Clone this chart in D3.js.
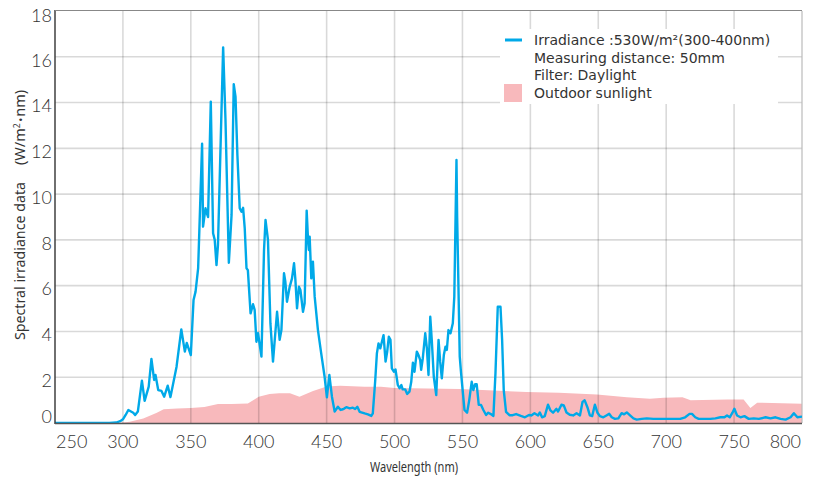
<!DOCTYPE html>
<html>
<head>
<meta charset="utf-8">
<script src="https://cdn.jsdelivr.net/npm/d3@7"></script>
<style>
  html, body { margin: 0; padding: 0; background: #fff; }
  svg { display: block; }
</style>
</head>
<body>
<svg id="chart" width="816" height="480"></svg>
<script>
// ---- Data ----
const xTicks = [250, 300, 350, 400, 450, 500, 550, 600, 650, 700, 750, 800];
const yTicks = [0, 2, 4, 6, 8, 10, 12, 14, 16, 18];

// Outdoor sunlight (pink area): wavelength, value
const sunWl  = [250, 296, 305, 315, 325, 330, 340, 350, 360, 370, 380, 392, 400, 408, 415, 423, 430, 440, 450, 460, 478, 490, 500, 548, 577, 597, 621, 649, 671, 688, 698, 712, 718, 745, 757, 762, 767, 800];
const sunVal = [0, 0, 0.05, 0.2, 0.45, 0.6, 0.63, 0.65, 0.7, 0.83, 0.83, 0.85, 1.15, 1.27, 1.3, 1.3, 1.15, 1.4, 1.59, 1.63, 1.58, 1.58, 1.53, 1.48, 1.41, 1.35, 1.32, 1.25, 1.13, 1.06, 1.1, 1.13, 0.99, 1.03, 1.03, 0.65, 0.89, 0.84];

// Irradiance (blue line): wavelength, value
const irrWl = [250, 290, 295, 298, 300, 302, 304, 307.6, 309, 311, 314, 316, 319, 321, 323, 324, 326, 328.4, 330.4, 333, 335, 339.5, 343, 345.6, 347, 350, 352, 353.5, 355.4, 358.3, 359, 360.8, 362, 362.7, 364.7, 366.4, 367.6, 368.9, 370, 373.8, 375.5, 378, 380, 381.6, 382.9, 384.3, 386, 387.3, 388.5, 389.7, 391, 392, 394, 395.8, 397, 398.3, 399.5, 402, 403.9, 405, 406.8, 408.6, 410.5, 411.8, 413.5, 415.4, 416.7, 418.6, 419.6, 420.8, 422.8, 424.5, 426, 427, 428.2, 429.6, 430.7, 432.6, 433.8, 435.3, 436.3, 436.9, 437.5, 438.7, 439.9, 441.2, 443.6, 446, 448.5, 450.2, 452, 453.9, 455.9, 458.3, 460.3, 462, 463.2, 464.5, 467, 469.3, 471, 472.6, 474.3, 478, 480.4, 482.9, 484, 485.8, 487, 488.2, 489.5, 490.7, 491.9, 493.4, 494.6, 495.8, 497, 498, 499.5, 500.7, 502.4, 503.7, 505, 506, 507.8, 509.3, 511, 512.3, 513.5, 514.7, 516.4, 517.6, 518.9, 519.6, 520.8, 522.6, 523.8, 525, 526.3, 527.4, 528.9, 530.7, 532.4, 533.6, 534.8, 536.3, 537.5, 538.5, 539.7, 541.2, 542.9, 544, 545.6, 546.1, 548, 549, 551.5, 553.4, 555, 556.8, 558, 559.3, 560.5, 562, 563.7, 565.4, 567.4, 569, 570.9, 572.8, 574.3, 576, 578, 579.2, 580.4, 582.1, 584.6, 587, 589.5, 593, 596, 599, 600.7, 603, 605.7, 607, 608.6, 610.6, 613, 614.8, 616.7, 619.2, 620.4, 622.9, 624.6, 626.6, 629, 631.5, 634, 636.5, 638.4, 640, 642, 643.8, 645.5, 647.5, 649.3, 651.2, 653.7, 656, 658, 659.9, 662.3, 664.8, 667.2, 669, 671, 673.4, 675.9, 678.3, 682, 685.7, 690.6, 695.6, 700.5, 705.4, 710.3, 714, 717.2, 719, 721.4, 723.9, 728.8, 732.5, 736.2, 739.9, 742.9, 744.8, 746.8, 748.8, 750.2, 752.2, 754.7, 757.6, 760.8, 764.5, 768.2, 773.2, 776.8, 780.5, 784.2, 787.9, 791.6, 794, 796.6, 800];
const irrVal = [0, 0, 0.02, 0.08, 0.16, 0.35, 0.57, 0.45, 0.35, 0.5, 1.85, 0.97, 1.59, 2.8, 1.88, 2.1, 1.44, 1.4, 1.15, 1.63, 1.13, 2.46, 4.09, 3.12, 3.5, 2.97, 5.37, 5.74, 6.77, 12.2, 8.58, 9.38, 9.13, 9.0, 14.04, 8.29, 8.0, 6.9, 7.78, 16.41, 13.3, 7.0, 9.09, 14.8, 14.26, 11.7, 9.38, 9.23, 9.4, 8.5, 6.76, 6.68, 4.79, 5.19, 4.94, 3.55, 3.92, 2.9, 7.56, 8.87, 8.0, 4.36, 2.68, 3.63, 4.86, 3.63, 4.06, 6.54, 6.17, 5.3, 5.95, 6.32, 6.98, 6.25, 5.01, 5.95, 5.81, 4.86, 5.23, 9.28, 8.0, 7.56, 8.14, 6.32, 7.05, 5.52, 4.06, 3.04, 2.02, 1.12, 2.1, 1.15, 0.5, 0.71, 0.57, 0.6, 0.64, 0.69, 0.64, 0.67, 0.61, 0.71, 0.49, 0.42, 0.38, 0.31, 0.42, 1.88, 3.04, 3.48, 3.26, 3.55, 3.84, 2.68, 3.12, 3.77, 3.63, 2.39, 2.24, 2.34, 1.66, 1.52, 1.66, 1.47, 1.47, 1.27, 1.37, 1.8, 2.63, 2.24, 3.12, 2.97, 2.75, 2.32, 2.83, 3.92, 3.26, 2.1, 4.64, 3.63, 2.02, 1.22, 3.63, 2.68, 1.95, 2.97, 3.33, 3.19, 4.06, 3.92, 4.36, 5.52, 11.49, 9.0, 2.9, 2.17, 0.57, 0.45, 1.0, 1.8, 1.44, 1.69, 1.69, 0.79, 0.79, 0.57, 0.35, 0.45, 0.39, 0.31, 2.17, 5.08, 5.08, 3.63, 1.44, 0.49, 0.34, 0.34, 0.39, 0.31, 0.25, 0.35, 0.33, 0.43, 0.33, 0.46, 0.25, 0.3, 0.8, 0.55, 0.45, 0.62, 0.5, 0.8, 0.77, 0.46, 0.36, 0.33, 0.43, 0.33, 0.92, 0.99, 0.69, 0.33, 0.3, 0.8, 0.46, 0.3, 0.25, 0.33, 0.4, 0.25, 0.18, 0.2, 0.43, 0.38, 0.46, 0.33, 0.2, 0.15, 0.18, 0.2, 0.18, 0.18, 0.18, 0.18, 0.18, 0.25, 0.4, 0.4, 0.25, 0.18, 0.18, 0.18, 0.2, 0.25, 0.25, 0.33, 0.25, 0.45, 0.62, 0.33, 0.25, 0.3, 0.18, 0.2, 0.18, 0.25, 0.2, 0.25, 0.18, 0.15, 0.25, 0.43, 0.25, 0.28];

const legendLines = [
  "Irradiance :530W/m\u00B2(300-400nm)",
  "Measuring distance: 50mm",
  "Filter: Daylight",
  "Outdoor sunlight"
];
const xTitle = "Wavelength (nm)";
const yTitleMain = "Spectral irradiance data";
const yTitleUnit = ["(W/m", "2", "\u2022", "nm)"];

// ---- Chart ----
(function () {
const svg = d3.select("#chart");
const pL = 55, pR = 802, pT = 11, pB = 423;
const x = d3.scaleLinear().domain([250, 800]).range([pL, pR]);
const y = d3.scaleLinear().domain([0, 18]).range([pB, pT]);

svg.append("defs").append("clipPath").attr("id", "clip")
  .append("rect").attr("x", pL).attr("y", pT - 2).attr("width", pR - pL).attr("height", pB - pT + 2);

const sun = sunWl.map((w, i) => ({w, v: sunVal[i]}));
const irr = irrWl.map((w, i) => ({w, v: irrVal[i]}));

// pink area
svg.append("path").datum(sun)
  .attr("clip-path", "url(#clip)")
  .attr("fill", "#f8b9bc")
  .attr("d", d3.area().x(d => x(d.w)).y0(y(0)).y1(d => y(d.v)));

// gridlines
const grid = svg.append("g").attr("stroke", "rgba(0,0,0,0.15)").attr("stroke-width", 1.6);
yTicks.filter(t => t > 0 && t < 18).forEach(t => {
  grid.append("line").attr("x1", pL).attr("x2", pR).attr("y1", y(t)).attr("y2", y(t));
});
xTicks.filter(t => t > 250 && t < 800).forEach(t => {
  grid.append("line").attr("x1", x(t)).attr("x2", x(t)).attr("y1", pT).attr("y2", pB);
});
// right border
svg.append("line").attr("x1", pR).attr("x2", pR).attr("y1", pT).attr("y2", pB)
  .attr("stroke", "#bbb").attr("stroke-width", 1.2);

// legend background
svg.append("rect").attr("x", 500).attr("y", 29).attr("width", 278).attr("height", 75).attr("fill", "#fff");

// line
svg.append("path").datum(irr)
  .attr("clip-path", "url(#clip)")
  .attr("fill", "none")
  .attr("stroke", "#00a9e8")
  .attr("stroke-width", 2.4)
  .attr("stroke-linejoin", "round")
  .attr("d", d3.line().x(d => x(d.w)).y(d => y(d.v)));

// axes lines
svg.append("line").attr("x1", pL).attr("x2", pL).attr("y1", pT - 1).attr("y2", pB + 1)
  .attr("stroke", "#333").attr("stroke-width", 1.4);
svg.append("line").attr("x1", pL).attr("x2", pR).attr("y1", pB + 0.5).attr("y2", pB + 0.5)
  .attr("stroke", "#555").attr("stroke-width", 1.4);
svg.append("line").attr("x1", pL).attr("x2", pR).attr("y1", pT - 0.5).attr("y2", pT - 0.5)
  .attr("stroke", "#888").attr("stroke-width", 1);

// y tick labels
const tickFont = "Lato, 'DejaVu Sans', sans-serif";
svg.append("g").selectAll("text").data(yTicks).join("text")
  .attr("x", 52)
  .attr("y", d => d === 0 ? 417 : (d === 18 ? 16 : y(d) + 3.5))
  .attr("dy", "0.35em")
  .attr("text-anchor", "end")
  .attr("font-family", tickFont).attr("font-weight", 300)
  .attr("font-size", 18).attr("fill", "#333")
  .text(d => d);

// x tick labels
svg.append("g").selectAll("text").data(xTicks).join("text")
  .attr("x", d => d === 250 ? pL + 1 : (d === 800 ? pR - 1 : x(d)))
  .attr("y", 442)
  .attr("dy", "0.35em")
  .attr("text-anchor", d => d === 250 ? "start" : (d === 800 ? "end" : "middle"))
  .attr("font-family", tickFont).attr("font-weight", 300)
  .attr("font-size", 18).attr("fill", "#333")
  .text(d => d);

// axis titles
const titleFont = "'Noto Sans', 'Open Sans', sans-serif";
svg.append("text").attr("x", 414).attr("y", 467).attr("dy", "0.35em")
  .attr("text-anchor", "middle").attr("font-family", titleFont).attr("font-size", 14.5).attr("fill", "#333")
  .attr("textLength", 88).attr("lengthAdjust", "spacingAndGlyphs")
  .text(xTitle);
const yg = svg.append("g").attr("transform", "translate(20,214) rotate(-90)");
yg.append("text").attr("x", -126).attr("dy", "0.35em")
  .attr("text-anchor", "start").attr("font-family", titleFont).attr("font-size", 14.5).attr("fill", "#333")
  .attr("textLength", 158).attr("lengthAdjust", "spacingAndGlyphs")
  .text(yTitleMain);
const yu = yg.append("text").attr("x", 49).attr("dy", "0.35em")
  .attr("text-anchor", "start").attr("font-family", titleFont).attr("font-size", 14.5).attr("fill", "#333");
yu.append("tspan").text(yTitleUnit[0]);
yu.append("tspan").attr("font-size", 8.5).attr("dy", "-0.6em").text(yTitleUnit[1]);
yu.append("tspan").attr("font-size", 11).attr("dy", "0.45em").attr("dx", 1.5).text(yTitleUnit[2]);
yu.append("tspan").attr("dx", 1).text(yTitleUnit[3]);

// legend
const legendFont = "'DejaVu Sans', Verdana, sans-serif";
svg.append("line").attr("x1", 505).attr("x2", 522).attr("y1", 40).attr("y2", 40)
  .attr("stroke", "#00a9e8").attr("stroke-width", 3);
svg.append("rect").attr("x", 504).attr("y", 84).attr("width", 18).attr("height", 18).attr("fill", "#f8b9bc");
const lgY = [40, 58, 75, 93];
svg.append("g").selectAll("text").data(legendLines).join("text")
  .attr("x", 534).attr("y", (d, i) => lgY[i]).attr("dy", "0.35em")
  .attr("font-family", legendFont).attr("font-size", 14).attr("fill", "#333")
  .text(d => d);
})();
</script>
</body>
</html>
